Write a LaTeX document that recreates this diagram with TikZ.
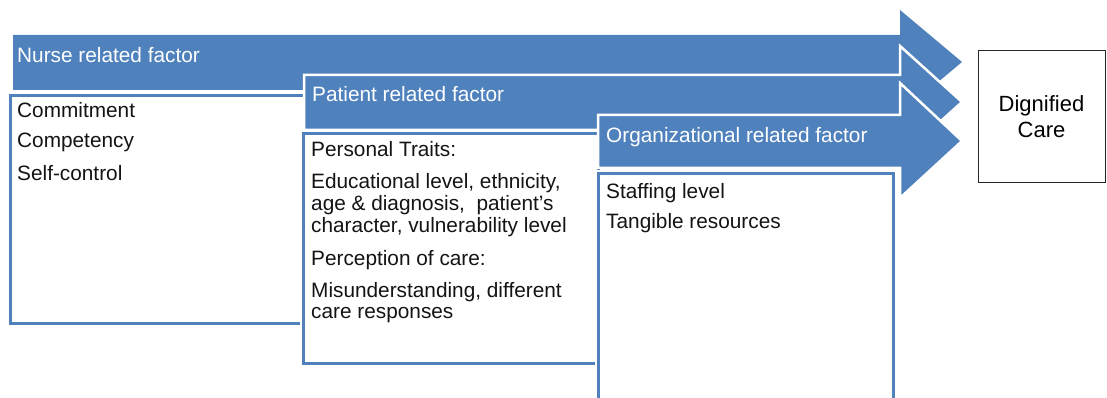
\documentclass[tikz,border=0pt]{standalone}
\usepackage{fontspec}
\setmainfont{Liberation Sans}
\definecolor{ablue}{HTML}{4F81BD}
\begin{document}
\begin{tikzpicture}[x=1pt,y=-1pt,
  arrowshape/.style={fill=ablue, draw=white, line width=2.5pt, line join=miter},
  boxhalo/.style={draw=white, line width=7pt},
  factorbox/.style={fill=white, draw=ablue, line width=3pt},
  hdr/.style={anchor=base west, inner sep=0pt, text=white, font=\fontsize{20.8}{24}\selectfont},
  itm/.style={anchor=base west, inner sep=0pt, text=black!92, font=\fontsize{20.8}{24}\selectfont},
  goalbox/.style={draw=black!85, line width=1pt, fill=white, align=center,
    minimum width=127pt, minimum height=131pt, inner sep=0pt,
    font=\fontsize{22}{26}\selectfont}]
\useasboundingbox (0,0) rectangle (1107,398);
\clip (0,0) rectangle (1107,398);

% Nurse related factor
\fill[ablue] (13,35) -- (900,35) -- (900,10) -- (962,62) -- (900,114) -- (900,90) -- (13,90) -- cycle;
\draw[boxhalo] (10,96) rectangle (305,323);
\draw[factorbox] (10,96) rectangle (305,323);
\node[hdr] (nh) at (17,63) {Nurse related factor};
\node[itm] (n1) at (17,118) {Commitment};
\node[itm] (n2) at (17,148) {Competency};
\node[itm] (n3) at (17,180) {Self-control};

% Patient related factor
\draw[arrowshape] (304,75) -- (900,75) -- (900,46) -- (962,102) -- (900,158) -- (900,130) -- (304,130) -- cycle;
\draw[boxhalo] (303,134) rectangle (598,363);
\draw[factorbox] (303,134) rectangle (598,363);
\node[hdr] (ph) at (312,102) {Patient related factor};
\node[itm] (p1) at (311,157) {Personal Traits:};
\node[itm] (p2) at (311,188) {Educational level, ethnicity,};
\node[itm] (p3) at (311,210) {age \& diagnosis,\ \ patient{\char"27}s};
\node[itm] (p4) at (311,232) {character, vulnerability level};
\node[itm] (p5) at (311,265) {Perception of care:};
\node[itm] (p6) at (311,297) {Misunderstanding, different};
\node[itm] (p7) at (311,318) {care responses};

% Organizational related factor
\draw[arrowshape] (598,115) -- (900,115) -- (900,83) -- (962,141) -- (900,198) -- (900,168) -- (598,168) -- cycle;
\draw[boxhalo] (598,174) rectangle (893,420);
\draw[factorbox] (598,174) rectangle (893,420);
\node[hdr] (oh) at (606,143) {Organizational related factor};
\node[itm] (o1) at (606,198) {Staffing level};
\node[itm] (o2) at (606,228) {Tangible resources};

% Goal
\node[goalbox] (dc) at (1041.5,116.5) {Dignified\\Care};
\end{tikzpicture}
\end{document}
